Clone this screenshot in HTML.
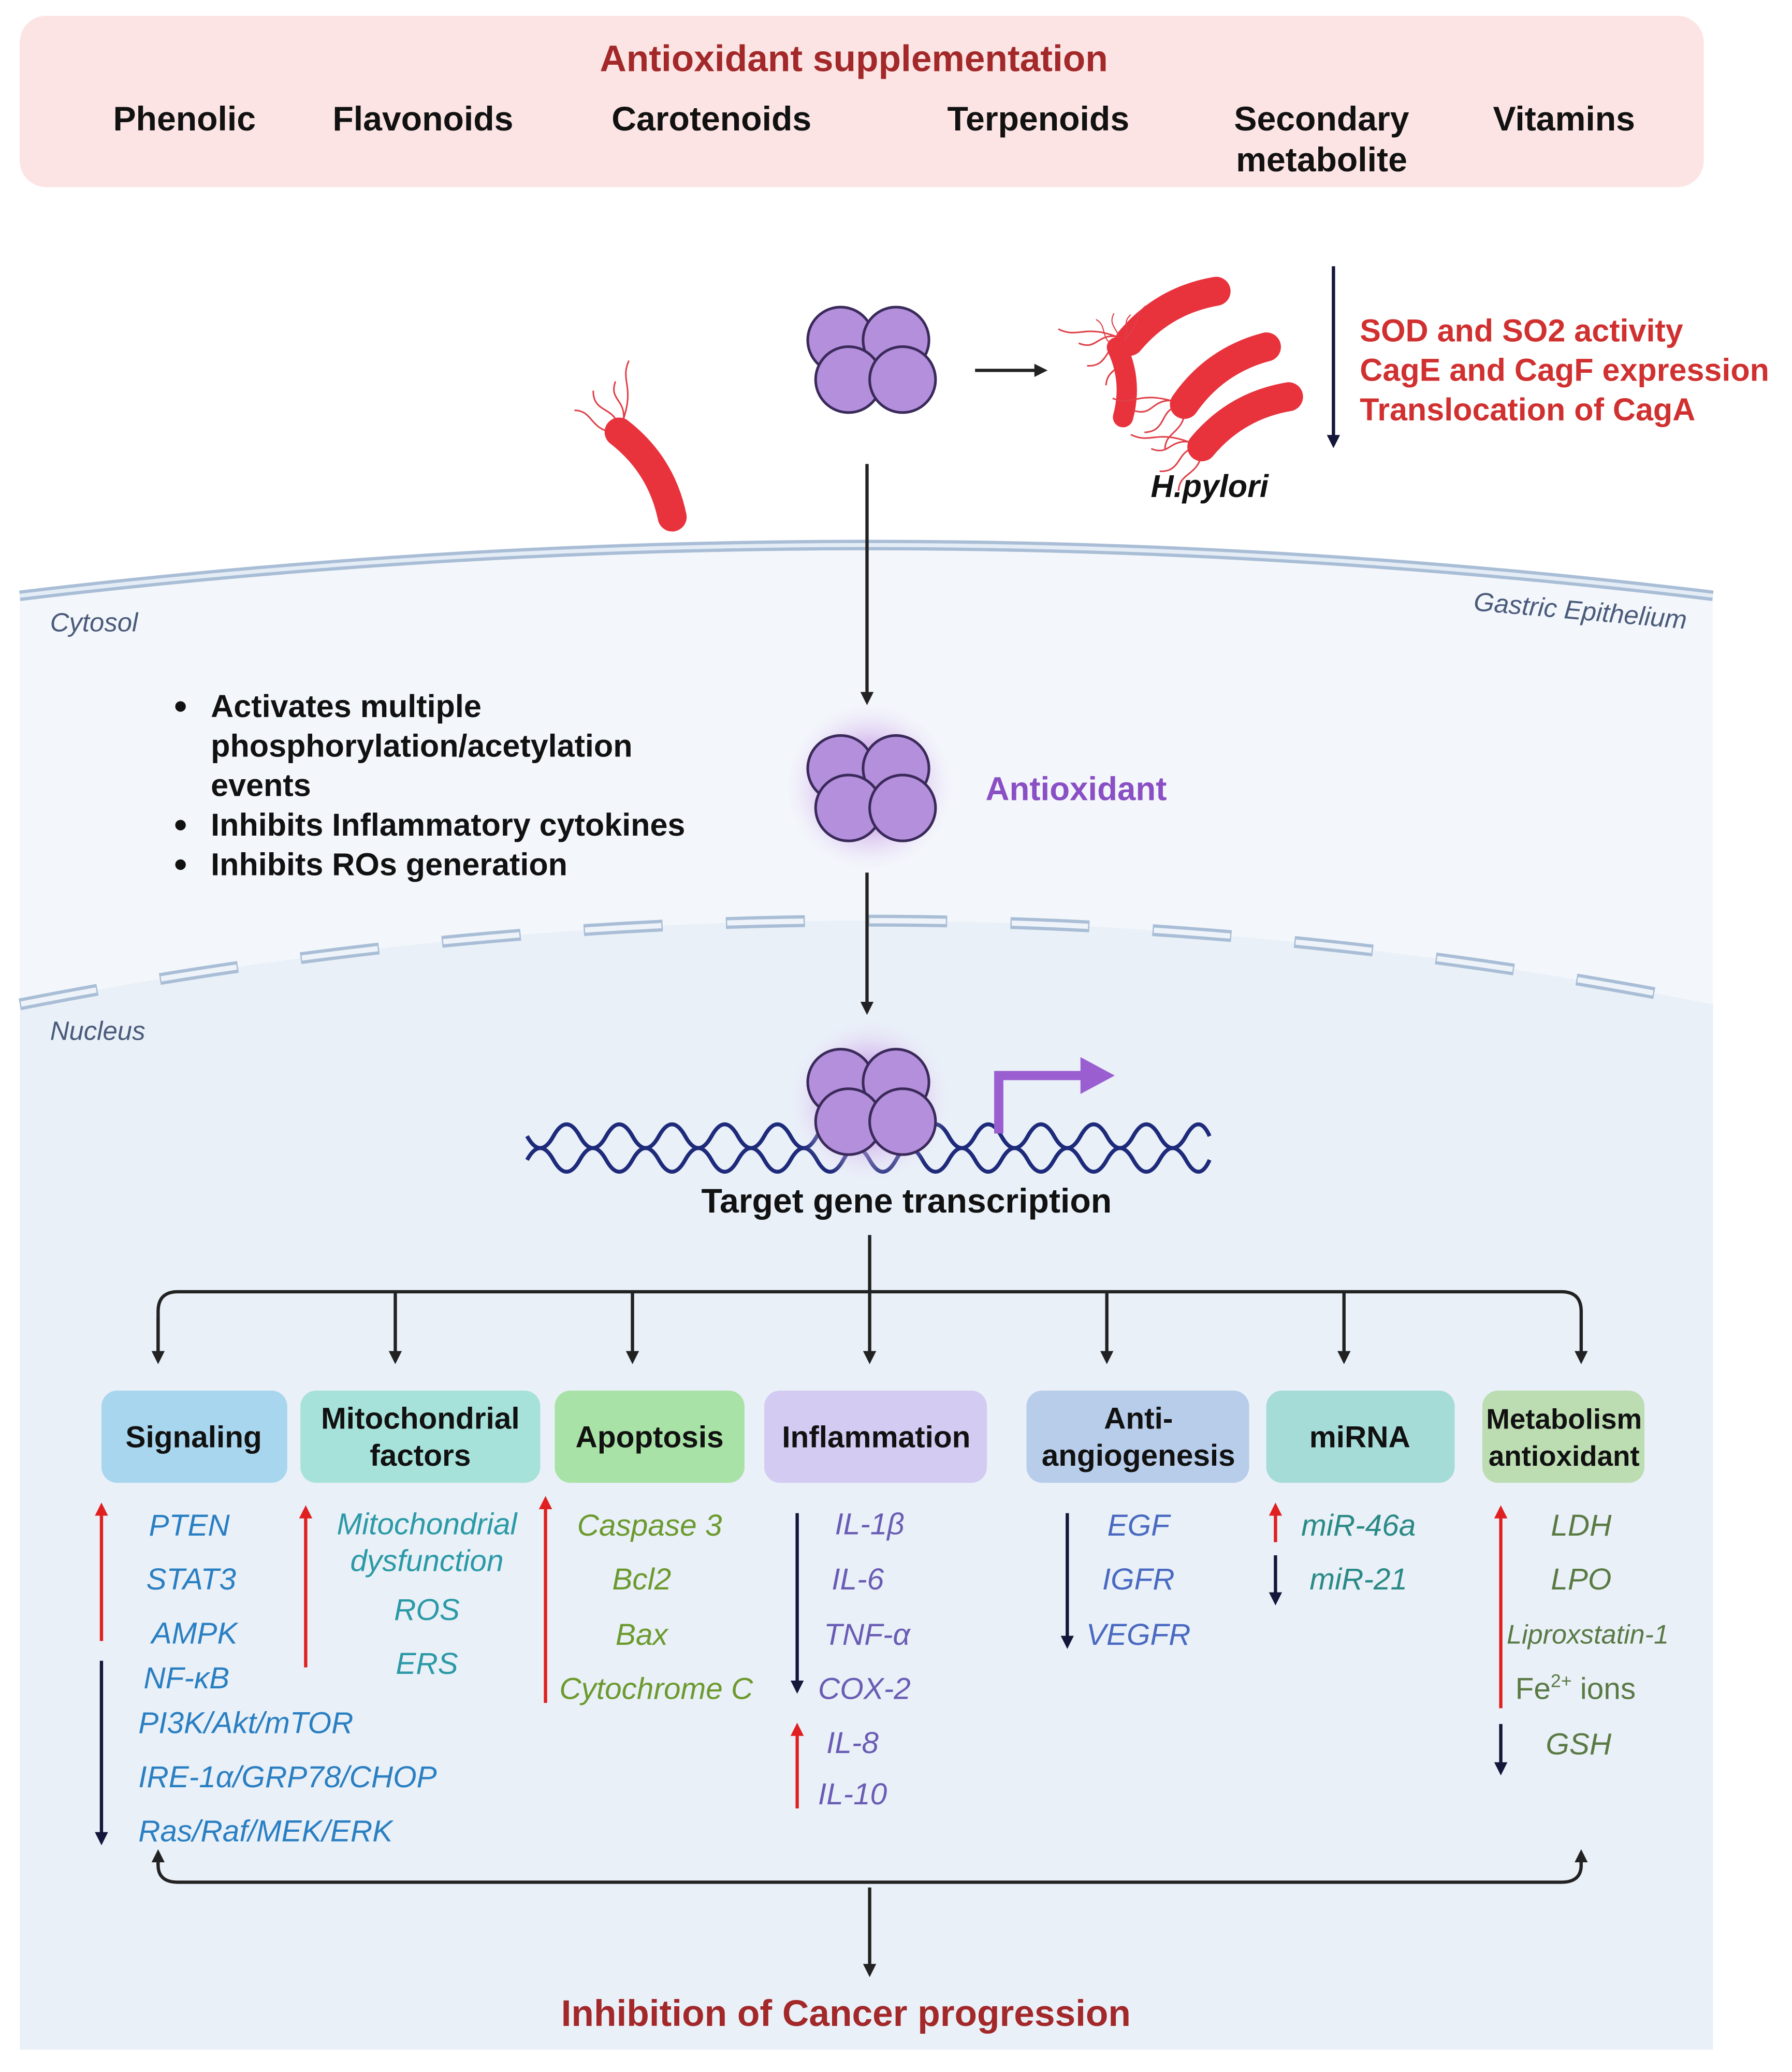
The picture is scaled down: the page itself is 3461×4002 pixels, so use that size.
<!DOCTYPE html>
<html><head><meta charset="utf-8"><style>
html,body{margin:0;padding:0;background:#fff;width:3461px;height:4002px;overflow:hidden}
svg{display:block}
text{font-family:"Liberation Sans",sans-serif}
.b{font-weight:bold}
.it{font-style:italic}
</style></head><body>
<svg width="3461" height="4002" viewBox="0 0 1360 1572" preserveAspectRatio="none" xmlns="http://www.w3.org/2000/svg">
<defs>
<marker id="ah" markerWidth="10" markerHeight="10" refX="5" refY="5" orient="auto" markerUnits="userSpaceOnUse"><path d="M0,0 L10,5 L0,10 Z" fill="#222"/></marker>
<marker id="an" markerWidth="10" markerHeight="10" refX="5" refY="5" orient="auto" markerUnits="userSpaceOnUse"><path d="M0,0 L10,5 L0,10 Z" fill="#14163a"/></marker>
<marker id="ar" markerWidth="10" markerHeight="10" refX="5" refY="5" orient="auto" markerUnits="userSpaceOnUse"><path d="M0,0 L10,5 L0,10 Z" fill="#e02020"/></marker>
<radialGradient id="glow"><stop offset="0.5" stop-color="#c9a0e8" stop-opacity="0.7"/><stop offset="1" stop-color="#f0e6fa" stop-opacity="0"/></radialGradient>
<g id="mol">
<circle cx="-22" cy="-14" r="25" fill="#b48fdc" stroke="#3a2a5a" stroke-width="2"/>
<circle cx="20" cy="-14" r="25" fill="#b48fdc" stroke="#3a2a5a" stroke-width="2"/>
<circle cx="-16" cy="16" r="25" fill="#b48fdc" stroke="#3a2a5a" stroke-width="2"/>
<circle cx="25" cy="16" r="25" fill="#b48fdc" stroke="#3a2a5a" stroke-width="2"/>
</g>
<g id="bac">
<path d="M-40,0 C-55,-10 -60,10 -75,0 M-40,-4 C-55,-20 -62,-5 -72,-18 M-40,4 C-52,18 -62,8 -70,20 M-40,-2 C-60,-30 -70,-20 -80,-35" stroke="#e04048" fill="none" stroke-width="1.2"/>
<path d="M-38,0 Q0,-14 38,0" stroke="#e8323c" stroke-width="22" stroke-linecap="round" fill="none"/>
</g>
</defs>

<rect x="15" y="12" width="1278" height="130" rx="20" fill="#fbe4e3"/>
<text x="648" y="54" text-anchor="middle" class="b" font-size="28" fill="#a3282a">Antioxidant supplementation</text>
<g class="b" font-size="26" fill="#111" text-anchor="middle">
<text x="140" y="99">Phenolic</text><text x="321" y="99">Flavonoids</text><text x="540" y="99">Carotenoids</text>
<text x="788" y="99">Terpenoids</text><text x="1003" y="99">Secondary</text><text x="1003" y="130">metabolite</text>
<text x="1187" y="99">Vitamins</text>
</g>

<path d="M15,452 Q660,375 1300,452 L1300,1555 L15,1555 Z" fill="#f3f7fb"/>
<path d="M15,452 Q660,375 1300,452" stroke="#a9bed6" stroke-width="8" fill="none"/>
<path d="M15,452 Q660,375 1300,452" stroke="#e4ecf5" stroke-width="3" fill="none"/>
<path d="M15,762 Q660,635 1300,762 L1300,1555 L15,1555 Z" fill="#e9f0f8"/>
<path d="M15,762 Q660,635 1300,762" stroke="#a9bed6" stroke-width="9" fill="none" stroke-dasharray="60,48"/>
<path d="M15,762 Q660,635 1300,762" stroke="#eef3f9" stroke-width="4" fill="none" stroke-dasharray="58,50" stroke-dashoffset="-1"/>
<g class="it" font-size="20" fill="#4a5a7a">
<text x="38" y="479">Cytosol</text><text x="38" y="789">Nucleus</text>
<text x="1118" y="463" transform="rotate(5 1118 463)">Gastric Epithelium</text>
</g>

<use href="#mol" x="660" y="272"/>
<line x1="740" y1="281" x2="790" y2="281" stroke="#222" stroke-width="2.5" marker-end="url(#ah)"/>
<use href="#bac" transform="translate(490,360) rotate(58)"/>
<use href="#bac" transform="translate(890,240) rotate(-30)"/>
<use href="#bac" transform="translate(850,290) rotate(85) scale(0.7)"/>
<use href="#bac" transform="translate(930,285) rotate(-35)"/>
<use href="#bac" transform="translate(945,320) rotate(-30)"/>
<text x="918" y="377" text-anchor="middle" class="b it" font-size="24" fill="#111">H.pylori</text>
<line x1="1012" y1="202" x2="1012" y2="335" stroke="#14163a" stroke-width="2.5" marker-end="url(#an)"/>
<g class="b" font-size="24" fill="#d0302f">
<text x="1032" y="259">SOD and SO2 activity</text><text x="1032" y="289">CagE and CagF expression</text><text x="1032" y="319">Translocation of CagA</text>
</g>

<line x1="658" y1="352" x2="658" y2="530" stroke="#222" stroke-width="2.5" marker-end="url(#ah)"/>
<circle cx="660" cy="597" r="65" fill="url(#glow)"/>
<use href="#mol" x="660" y="597"/>
<text x="748" y="607" class="b" font-size="25" fill="#8a4fc4">Antioxidant</text>
<g class="b" font-size="24" fill="#111">
<circle cx="137" cy="536" r="4" fill="#111"/><text x="160" y="544">Activates multiple</text>
<text x="160" y="574">phosphorylation/acetylation</text><text x="160" y="604">events</text>
<circle cx="137" cy="626" r="4" fill="#111"/><text x="160" y="634">Inhibits Inflammatory cytokines</text>
<circle cx="137" cy="656" r="4" fill="#111"/><text x="160" y="664">Inhibits ROs generation</text>
</g>
<line x1="658" y1="662" x2="658" y2="765" stroke="#222" stroke-width="2.5" marker-end="url(#ah)"/>

<g stroke="#1e2a7a" stroke-width="3" fill="none">
<path d="M400,862 q10,18 20,0 t20,0 t20,0 t20,0 t20,0 t20,0 t20,0 t20,0 t20,0 t20,0 t20,0 t20,0 t20,0 t20,0 t20,0 t20,0 t20,0 t20,0 t20,0 t20,0 t20,0 t20,0 t20,0 t20,0 t20,0 t18,0"/>
<path d="M400,880 q10,-18 20,0 t20,0 t20,0 t20,0 t20,0 t20,0 t20,0 t20,0 t20,0 t20,0 t20,0 t20,0 t20,0 t20,0 t20,0 t20,0 t20,0 t20,0 t20,0 t20,0 t20,0 t20,0 t20,0 t20,0 t20,0 t18,0"/>
</g>
<circle cx="660" cy="835" r="62" fill="url(#glow)"/>
<use href="#mol" x="660" y="835"/>
<path d="M758,860 L758,816 L825,816" stroke="#9a5ed0" stroke-width="7" fill="none"/>
<path d="M820,802 L846,816 L820,830 Z" fill="#9a5ed0"/>
<text x="688" y="920" text-anchor="middle" class="b" font-size="26" fill="#111">Target gene transcription</text>

<g stroke="#222" stroke-width="2.5" fill="none">
<line x1="660" y1="937" x2="660" y2="1030" marker-end="url(#ah)"/>
<path d="M120,1030 L120,995 Q120,980 135,980 L1185,980 Q1200,980 1200,995 L1200,1030" marker-end="url(#ah)"/>
<line x1="120" y1="1000" x2="120" y2="1030" marker-end="url(#ah)"/>
<line x1="300" y1="980" x2="300" y2="1030" marker-end="url(#ah)"/>
<line x1="480" y1="980" x2="480" y2="1030" marker-end="url(#ah)"/>
<line x1="840" y1="980" x2="840" y2="1030" marker-end="url(#ah)"/>
<line x1="1020" y1="980" x2="1020" y2="1030" marker-end="url(#ah)"/>
</g>

<rect x="77" y="1055" width="141" height="70" rx="12" fill="#a8d6ee"/>
<rect x="228" y="1055" width="182" height="70" rx="12" fill="#a6e2da"/>
<rect x="421" y="1055" width="144" height="70" rx="12" fill="#a8e2a6"/>
<rect x="580" y="1055" width="169" height="70" rx="12" fill="#d3cbf2"/>
<rect x="779" y="1055" width="169" height="70" rx="12" fill="#b7cdea"/>
<rect x="961" y="1055" width="143" height="70" rx="12" fill="#a6dcd8"/>
<rect x="1125" y="1055" width="123" height="70" rx="12" fill="#bcdcb2"/>
<g class="b" font-size="23" fill="#111" text-anchor="middle">
<text x="147" y="1098">Signaling</text>
<text x="319" y="1084">Mitochondrial</text><text x="319" y="1112">factors</text>
<text x="493" y="1098">Apoptosis</text>
<text x="665" y="1098">Inflammation</text>
<text x="864" y="1084">Anti-</text><text x="864" y="1112">angiogenesis</text>
<text x="1032" y="1098">miRNA</text>
<text x="1187" y="1084" font-size="21.5">Metabolism</text><text x="1187" y="1112" font-size="21.5">antioxidant</text>
</g>

<g stroke-width="2.5">
<line x1="77" y1="1245" x2="77" y2="1145" stroke="#e02020" marker-end="url(#ar)"/>
<line x1="77" y1="1260" x2="77" y2="1395" stroke="#14163a" marker-end="url(#an)"/>
<line x1="232" y1="1265" x2="232" y2="1147" stroke="#e02020" marker-end="url(#ar)"/>
<line x1="414" y1="1292" x2="414" y2="1140" stroke="#e02020" marker-end="url(#ar)"/>
<line x1="605" y1="1148" x2="605" y2="1280" stroke="#14163a" marker-end="url(#an)"/>
<line x1="605" y1="1372" x2="605" y2="1312" stroke="#e02020" marker-end="url(#ar)"/>
<line x1="810" y1="1148" x2="810" y2="1246" stroke="#14163a" marker-end="url(#an)"/>
<line x1="968" y1="1170" x2="968" y2="1145" stroke="#e02020" marker-end="url(#ar)"/>
<line x1="968" y1="1180" x2="968" y2="1213" stroke="#14163a" marker-end="url(#an)"/>
<line x1="1139" y1="1296" x2="1139" y2="1147" stroke="#e02020" marker-end="url(#ar)"/>
<line x1="1139" y1="1308" x2="1139" y2="1342" stroke="#14163a" marker-end="url(#an)"/>
</g>
<g class="it" font-size="23">
<g fill="#2a7fc2">
<text x="113" y="1165">PTEN</text><text x="111" y="1206">STAT3</text><text x="115" y="1247">AMPK</text><text x="109" y="1281">NF-κB</text>
<text x="105" y="1315">PI3K/Akt/mTOR</text><text x="105" y="1356">IRE-1α/GRP78/CHOP</text><text x="105" y="1397">Ras/Raf/MEK/ERK</text>
</g>
<g fill="#2b9aa6" text-anchor="middle">
<text x="324" y="1164">Mitochondrial</text><text x="324" y="1192">dysfunction</text><text x="324" y="1229">ROS</text><text x="324" y="1270">ERS</text>
</g>
<g fill="#6c9a2e" text-anchor="middle">
<text x="493" y="1165">Caspase 3</text><text x="487" y="1206">Bcl2</text><text x="487" y="1248">Bax</text><text x="498" y="1289">Cytochrome C</text>
</g>
<g fill="#6a5cb4" text-anchor="middle">
<text x="660" y="1164">IL-1β</text><text x="651" y="1206">IL-6</text><text x="658" y="1248">TNF-α</text><text x="656" y="1289">COX-2</text>
<text x="647" y="1330">IL-8</text><text x="647" y="1369">IL-10</text>
</g>
<g fill="#4a6ac2" text-anchor="middle">
<text x="864" y="1165">EGF</text><text x="864" y="1206">IGFR</text><text x="864" y="1248">VEGFR</text>
</g>
<g fill="#2a8a86" text-anchor="middle">
<text x="1031" y="1165">miR-46a</text><text x="1031" y="1206">miR-21</text>
</g>
<g fill="#5a7a44" text-anchor="middle">
<text x="1200" y="1165">LDH</text><text x="1200" y="1206">LPO</text><text x="1205" y="1247" font-size="20.5">Liproxstatin-1</text>
<text x="1198" y="1331">GSH</text>
</g>
</g>
<text x="1150" y="1289" font-size="23" fill="#5a7a44">Fe<tspan font-size="14" dy="-9">2+</tspan><tspan dy="9"> ions</tspan></text>

<g stroke="#222" stroke-width="2.5" fill="none">
<path d="M120,1408 L120,1415 Q120,1428 135,1428 L1185,1428 Q1200,1428 1200,1415 L1200,1408" />
<line x1="120" y1="1415" x2="120" y2="1408" marker-end="url(#ah)"/>
<line x1="1200" y1="1415" x2="1200" y2="1408" marker-end="url(#ah)"/>
<line x1="660" y1="1432" x2="660" y2="1495" marker-end="url(#ah)"/>
</g>
<text x="642" y="1537" text-anchor="middle" class="b" font-size="28" fill="#a3282a">Inhibition of Cancer progression</text>
</svg>
</body></html>
